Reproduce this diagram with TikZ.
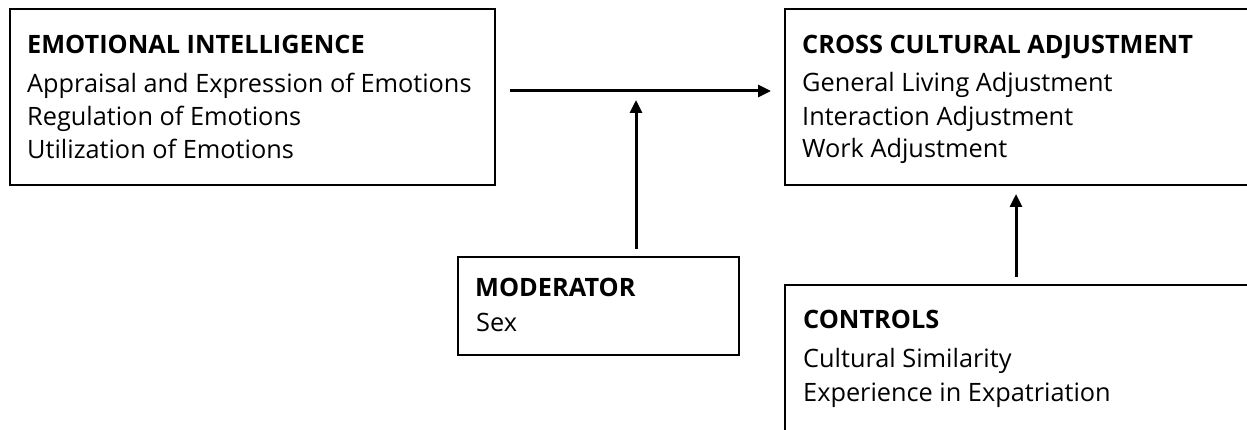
\documentclass[tikz,border=0pt]{standalone}
\usepackage{fontspec}
\setmainfont{Open Sans}
\usetikzlibrary{arrows.meta,calc}
\begin{document}
\begin{tikzpicture}[x=1pt,y=-1pt,
  box/.style={draw=black,line width=2pt,inner sep=0pt,anchor=north west},
  txt/.style={anchor=base west,inner sep=0pt,font=\fontsize{25.3}{30}\selectfont},
  head/.style={txt,font=\fontsize{25.3}{30}\selectfont\bfseries},
  conn/.style={line width=3pt,-{Triangle[length=13pt,width=12pt]}}]
\useasboundingbox (0,0) rectangle (1247,430);
\begin{scope}
\clip (0,0) rectangle (1247,430);
\node[box,minimum width=485pt,minimum height=176pt] (ei) at (9,8) {};
\node[box,minimum width=500pt,minimum height=176pt] (cca) at (784,8) {};
\node[box,minimum width=281pt,minimum height=98pt] (mod) at (457,256) {};
\node[box,minimum width=500pt,minimum height=200pt] (ctl) at (784,284) {};
\end{scope}
% texts
\node[head] (eih) at (27,54) {EMOTIONAL INTELLIGENCE};
\node[txt] (ei1) at (27,93) {Appraisal and Expression of Emotions};
\node[txt] (ei2) at (27,126) {Regulation of Emotions};
\node[txt] (ei3) at (27,159) {Utilization of Emotions};
\node[head] (ccah) at (802,54) {CROSS CULTURAL ADJUSTMENT};
\node[txt] (cca1) at (802,92) {General Living Adjustment};
\node[txt] (cca2) at (802,126) {Interaction Adjustment};
\node[txt] (cca3) at (802,158) {Work Adjustment};
\node[head] (modh) at (475,297) {MODERATOR};
\node[txt] (mod1) at (476,331) {Sex};
\node[head] (ctlh) at (803,328) {CONTROLS};
\node[txt] (ctl1) at (803,367) {Cultural Similarity};
\node[txt] (ctl2) at (803,401) {Experience in Expatriation};
% connectors
\coordinate (hs) at ($(ei.east |- 0,91)+(14,0)$);
\coordinate (he) at ($(cca.west |- 0,91)+(-13,0)$);
\coordinate (ms) at ($(mod.north -| 636,0)+(0,-7)$);
\coordinate (me) at (636,100);
\coordinate (cs) at ($(ctl.north -| 1016,0)+(0,-7)$);
\coordinate (ce) at ($(cca.south -| 1016,0)+(0,8)$);
\draw[conn] (hs) -- (he);
\draw[conn] (ms) -- (me);
\draw[conn] (cs) -- (ce);
\end{tikzpicture}
\end{document}
